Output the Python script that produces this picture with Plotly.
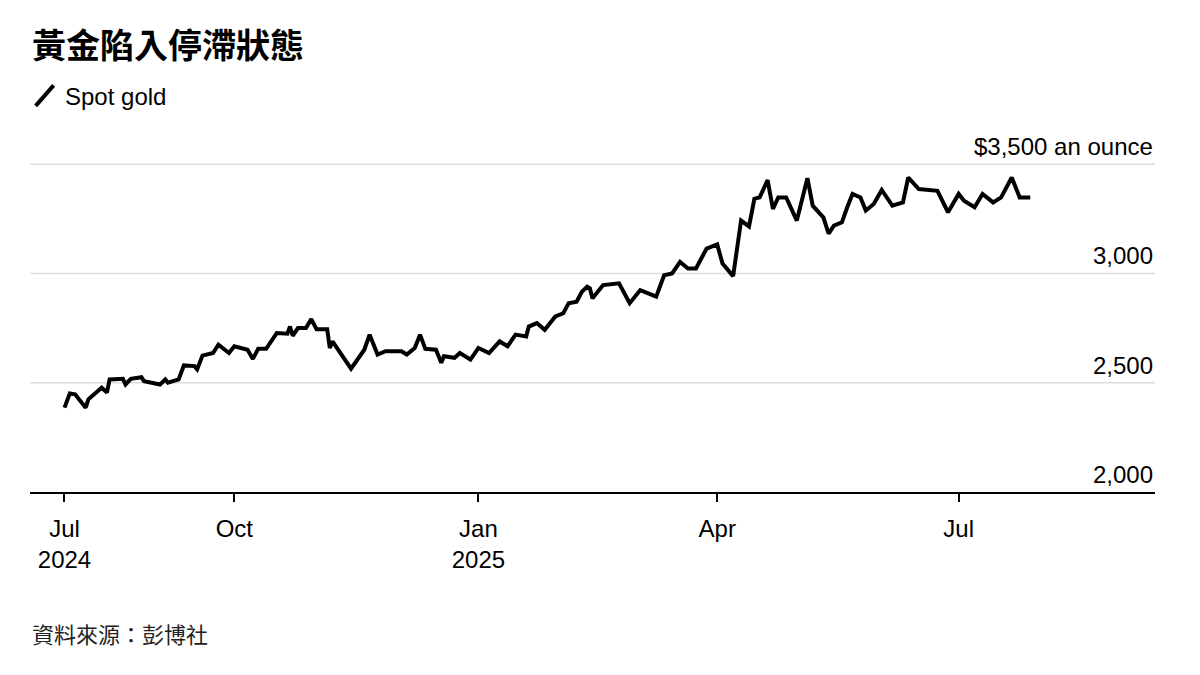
import plotly.graph_objects as go

# Spot gold
dates = [
    "2024-07-29", "2024-07-31", "2024-08-02", "2024-08-06", "2024-08-07", "2024-08-12",
    "2024-08-14", "2024-08-15", "2024-08-20", "2024-08-21", "2024-08-23", "2024-08-27",
    "2024-08-28", "2024-09-03", "2024-09-05", "2024-09-06", "2024-09-10", "2024-09-12",
    "2024-09-16", "2024-09-17", "2024-09-19", "2024-09-23", "2024-09-25", "2024-09-29",
    "2024-10-01", "2024-10-06", "2024-10-08", "2024-10-10", "2024-10-13", "2024-10-17",
    "2024-10-21", "2024-10-22", "2024-10-23", "2024-10-25", "2024-10-28", "2024-10-30",
    "2024-11-01", "2024-11-05", "2024-11-06", "2024-11-07", "2024-11-14", "2024-11-19",
    "2024-11-21", "2024-11-24", "2024-11-27", "2024-12-03", "2024-12-05", "2024-12-08",
    "2024-12-10", "2024-12-12", "2024-12-16", "2024-12-18", "2024-12-19", "2024-12-23",
    "2024-12-25", "2024-12-29", "2025-01-01", "2025-01-05", "2025-01-09", "2025-01-12",
    "2025-01-15", "2025-01-19", "2025-01-20", "2025-01-23", "2025-01-26", "2025-01-30",
    "2025-02-02", "2025-02-04", "2025-02-07", "2025-02-09", "2025-02-11", "2025-02-12",
    "2025-02-13", "2025-02-17", "2025-02-23", "2025-02-27", "2025-03-03", "2025-03-09",
    "2025-03-12", "2025-03-15", "2025-03-18", "2025-03-21", "2025-03-24", "2025-03-28",
    "2025-04-01", "2025-04-03", "2025-04-07", "2025-04-10", "2025-04-13", "2025-04-15",
    "2025-04-17", "2025-04-20", "2025-04-22", "2025-04-24", "2025-04-27", "2025-05-01",
    "2025-05-05", "2025-05-07", "2025-05-11", "2025-05-13", "2025-05-15", "2025-05-18",
    "2025-05-20", "2025-05-22", "2025-05-25", "2025-05-27", "2025-05-30", "2025-06-02",
    "2025-06-06", "2025-06-10", "2025-06-12", "2025-06-16", "2025-06-23", "2025-06-27",
    "2025-07-01", "2025-07-03", "2025-07-07", "2025-07-10", "2025-07-14", "2025-07-17",
    "2025-07-21", "2025-07-24", "2025-07-28",
]
prices = [
    2386, 2451, 2447, 2386, 2424, 2477,
    2455, 2515, 2518, 2492, 2518, 2525,
    2507, 2492, 2515, 2500, 2515, 2579,
    2576, 2561, 2624, 2636, 2674, 2636,
    2667, 2651, 2609, 2655, 2655, 2727,
    2724, 2757, 2715, 2750, 2750, 2791,
    2745, 2745, 2659, 2689, 2564, 2651,
    2720, 2629, 2644, 2644, 2629, 2659,
    2720, 2655, 2651, 2591, 2621, 2614,
    2636, 2606, 2659, 2636, 2689, 2667,
    2720, 2712, 2757, 2773, 2742, 2803,
    2818, 2864, 2871, 2916, 2939, 2932,
    2886, 2947, 2955, 2864, 2924, 2894,
    2992, 3000, 3053, 3023, 3023, 3114,
    3133, 3045, 2988, 3242, 3215, 3341,
    3348, 3427, 3295, 3348, 3348, 3242,
    3436, 3310, 3257, 3182, 3219, 3234,
    3303, 3364, 3348, 3288, 3318, 3382,
    3310, 3325, 3439, 3386, 3378, 3280,
    3364, 3333, 3303, 3364, 3325, 3348,
    3439, 3348, 3348,
]

x_tickvals = ["2024-07-29", "2024-10-01", "2025-01-01", "2025-04-01", "2025-07-01"]
x_ticktext = ["Jul<br>2024", "Oct", "Jan<br>2025", "Apr", "Jul"]
y_tickvals = [2000, 2500, 3000, 3500]
y_ticktext = ["2,000", "2,500", "3,000", "$3,500 an ounce"]

FONT = "Liberation Sans, Arial, sans-serif"
CJK = "Noto Sans CJK TC, Noto Sans CJK SC, sans-serif"

fig = go.Figure(go.Scatter(x=dates, y=prices, mode="lines",
                           line=dict(color="black", width=4),
                           hoverinfo="skip", showlegend=False))

fig.update_layout(
    width=1200, height=675,
    paper_bgcolor="white", plot_bgcolor="white",
    margin=dict(l=22, r=53, t=154, b=191),
    font=dict(family=FONT, size=24, color="black"),
    xaxis=dict(range=["2024-07-16", "2025-09-13"], tickvals=x_tickvals, ticktext=x_ticktext,
               showgrid=False, showline=True, linecolor="black", linewidth=1.5,
               ticks="outside", ticklen=8, tickcolor="black", tickwidth=1.5,
               ticklabelstandoff=6,
               tickfont=dict(size=24, family=FONT), zeroline=False),
    yaxis=dict(range=[2000, 3510], tickvals=y_tickvals, showticklabels=False,
               showgrid=False, zeroline=False),
)

# gridlines and labels sitting above them, right-aligned
for v, t in zip(y_tickvals, y_ticktext):
    if v > y_tickvals[0]:
        fig.add_shape(type="line", xref="paper", x0=0, x1=1, yref="y", y0=v, y1=v,
                      line=dict(color="#dddddd", width=1.5), layer="below")
    fig.add_annotation(x=1, xref="paper", y=v, yref="y", text=t, showarrow=False,
                       xanchor="right", yanchor="bottom", yshift=2,
                       font=dict(size=24, family=FONT))

fig.add_annotation(x=0, xref="paper", y=1.359, yref="paper", text="<b>黃金陷入停滯狀態</b>",
                   showarrow=False, xanchor="left", yanchor="middle",
                   font=dict(size=34, family=CJK))
fig.add_shape(type="line", xref="paper", yref="paper",
              x0=0.005, x1=0.021, y0=1.17, y1=1.232,
              line=dict(color="black", width=4))
fig.add_annotation(x=0.029, xref="paper", y=1.2, yref="paper", text="Spot gold",
                   showarrow=False, xanchor="left", yanchor="middle",
                   font=dict(size=24, family=FONT))
fig.add_annotation(x=0, xref="paper", y=-0.426, yref="paper", text="資料來源：彭博社",
                   showarrow=False, xanchor="left", yanchor="middle",
                   font=dict(size=22, family=CJK, color="#222222"))

fig.write_html("out.html")
